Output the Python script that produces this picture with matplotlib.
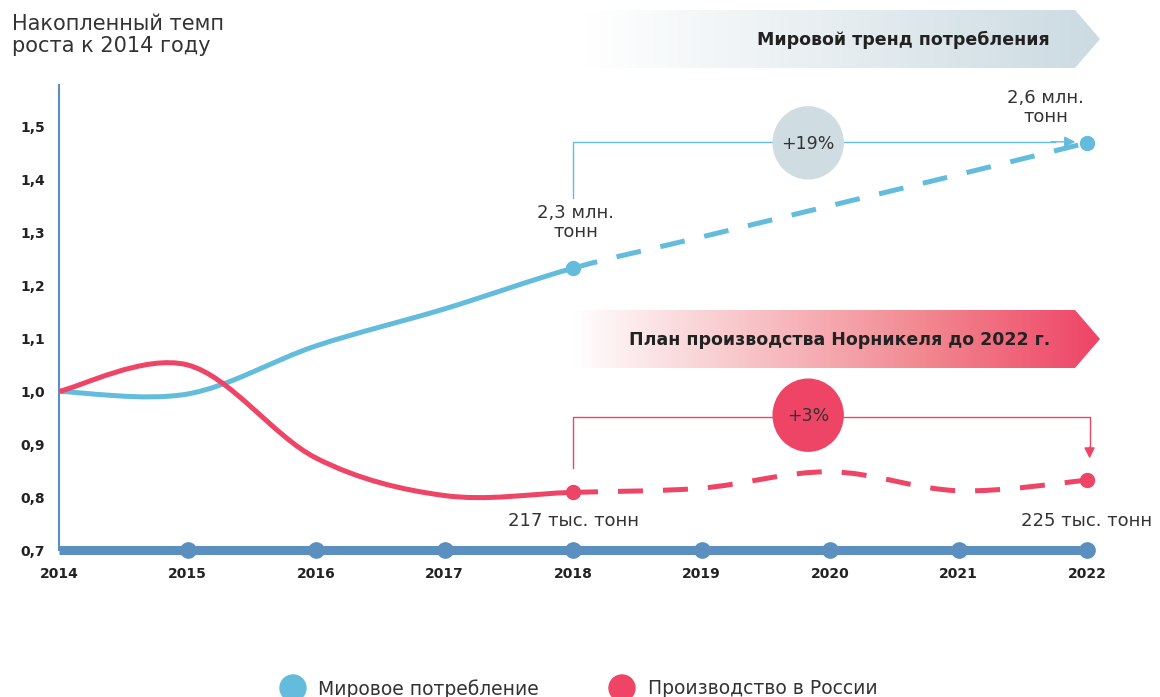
import numpy as np
import matplotlib
matplotlib.use("Agg")
import matplotlib.pyplot as plt
from matplotlib.path import Path
from matplotlib.patches import PathPatch, Polygon, Ellipse, Circle
from matplotlib.colors import LinearSegmentedColormap

plt.rcParams['font.family'] = ['DejaVu Sans']

# data
years = [2014, 2015, 2016, 2017, 2018, 2019, 2020, 2021, 2022]
world = [1.0, 0.995, 1.086, 1.156, 1.233, 1.292, 1.351, 1.41, 1.47]
russia = [1.0, 1.05, 0.874, 0.803, 0.809, 0.817, 0.848, 0.812, 0.832]
y_ticks = [0.7, 0.8, 0.9, 1.0, 1.1, 1.2, 1.3, 1.4, 1.5]
split_year = 2018

BLUE = "#64bcdc"
RED = "#ee4466"
AXIS = "#5b8fc0"
DARK = "#222222"
GREY = "#333333"

fig = plt.figure(figsize=(11.6, 6.97), dpi=100)

# background overlay in pixel coords (banners, legend)
bg = fig.add_axes([0, 0, 1, 1])
bg.set_xlim(0, 1160)
bg.set_ylim(697, 0)
bg.axis("off")


def banner(x0, x1, tip, y0, y1, colors, text):
    cmap = LinearSegmentedColormap.from_list("g", colors)
    grad = np.linspace(0, 1, 256).reshape(1, -1)
    im = bg.imshow(grad, cmap=cmap, extent=(x0, tip, y1, y0), aspect="auto")
    poly = Polygon([(x0, y0), (x1, y0), (tip, (y0 + y1) / 2), (x1, y1), (x0, y1)],
                   closed=True, facecolor="none", edgecolor="none")
    bg.add_patch(poly)
    im.set_clip_path(poly)
    bg.text(1050, (y0 + y1) / 2 + 1, text, ha="right", va="center",
            fontsize=12.5, fontweight="bold", color=DARK)


banner(585, 1075, 1100, 10, 68, ["#ffffff", "#e6edf0", "#cbdbe2"], "Мировой тренд потребления")
banner(572, 1075, 1100, 310, 368, ["#ffffff", "#f8c4c8", "#f28890", "#ee4466"],
       "План производства Норникеля до 2022 г.")

# legend
bg.add_patch(Circle((293, 688), 13, color=BLUE))
bg.text(318, 689, "Мировое потребление", va="center", fontsize=13.5, color=GREY)
bg.add_patch(Circle((622, 688), 13, color=RED))
bg.text(648, 689, "Производство в России", va="center", fontsize=13.5, color=GREY)

bg.text(12, 14, "Накопленный темп\nроста к 2014 году", va="top", ha="left",
        fontsize=15, color=GREY, linespacing=1.15)

# main axes
ax = fig.add_axes([59 / 1160, (697 - 550) / 697, (1087 - 59) / 1160, (550 - 85) / 697])
ax.patch.set_alpha(0)
ax.set_xlim(2014, 2022)
ax.set_ylim(0.7, 0.7 + 465 / 528.75)


def draw_series(vals, color):
    k = years.index(split_year)
    pts = np.column_stack([years, vals]).astype(float)
    n = len(pts)
    solid_v, solid_c, dash_v, dash_c = [], [], [], []
    for i in range(n - 1):
        p0 = pts[max(i - 1, 0)]
        p1 = pts[i]
        p2 = pts[i + 1]
        p3 = pts[min(i + 2, n - 1)]
        c1 = p1 + (p2 - p0) / 6
        c2 = p2 - (p3 - p1) / 6
        tv, tc = (solid_v, solid_c) if i < k else (dash_v, dash_c)
        if not tv:
            tv.append(p1)
            tc.append(Path.MOVETO)
        tv += [c1, c2, p2]
        tc += [Path.CURVE4] * 3
    ax.add_patch(PathPatch(Path(solid_v, solid_c), fill=False, edgecolor=color,
                           lw=3.6, capstyle="butt", zorder=3))
    ax.add_patch(PathPatch(Path(dash_v, dash_c), fill=False, edgecolor=color,
                           lw=3.6, linestyle=(0, (5, 4)), capstyle="butt", zorder=3))
    ax.plot([split_year, years[-1]], [vals[k], vals[-1]], "o", color=color,
            ms=10, zorder=4, clip_on=False)


draw_series(world, BLUE)
draw_series(russia, RED)

# axes lines
ax.plot([2014, 2022], [0.7, 0.7], color=AXIS, lw=6.5, solid_capstyle="butt",
        clip_on=False, zorder=2)
ax.plot(years[1:], [0.7] * (len(years) - 1), "o", color=AXIS, ms=11,
        clip_on=False, zorder=2)
for s in ["top", "right", "bottom"]:
    ax.spines[s].set_visible(False)
ax.spines["left"].set_color(AXIS)
ax.spines["left"].set_linewidth(1.5)

ax.set_xticks(years)
ax.set_xticklabels([str(y) for y in years], fontweight="bold", fontsize=10, color=DARK)
ax.set_yticks(y_ticks)
ax.set_yticklabels([f"{v:.1f}".replace(".", ",") for v in y_ticks],
                   fontweight="bold", fontsize=10, color=DARK)
ax.tick_params(axis="both", length=0)
ax.tick_params(axis="x", pad=12)
ax.tick_params(axis="y", pad=10)

# blue bracket
ax.plot([2018, 2018, 2021.75], [1.366, 1.472, 1.472], color=BLUE, lw=1, zorder=2)
ax.annotate("", xy=(2021.93, 1.472), xytext=(2021.7, 1.472), annotation_clip=False,
            arrowprops=dict(arrowstyle="-|>", color=BLUE, lw=1, mutation_scale=16))
ax.add_patch(Ellipse((2019.83, 1.47), 70 / 128.5, 72 / 528.75, color="#cfdde3", zorder=3))
ax.text(2019.83, 1.468, "+19%", ha="center", va="center", fontsize=12.5, color=GREY, zorder=4)

# red bracket
ax.plot([2018, 2018, 2022.02, 2022.02], [0.855, 0.9515, 0.9515, 0.89], color=RED, lw=1,
        zorder=2, clip_on=False)
ax.annotate("", xy=(2022.02, 0.868), xytext=(2022.02, 0.9), annotation_clip=False,
            arrowprops=dict(arrowstyle="-|>", color=RED, lw=1, mutation_scale=16))
ax.add_patch(Ellipse((2019.83, 0.955), 70 / 128.5, 72 / 528.75, color=RED, zorder=3))
ax.text(2019.83, 0.953, "+3%", ha="center", va="center", fontsize=12.5, color=GREY, zorder=4)

# value labels
ax.text(2018.02, 1.32, "2,3 млн.\nтонн", ha="center", va="center", fontsize=13,
        color=GREY, linespacing=1.05)
ax.text(2021.68, 1.537, "2,6 млн.\nтонн", ha="center", va="center", fontsize=13,
        color=GREY, linespacing=1.05, clip_on=False)
ax.text(2018.0, 0.755, "217 тыс. тонн", ha="center", va="center", fontsize=13, color=GREY)
ax.text(2022.0, 0.755, "225 тыс. тонн", ha="center", va="center", fontsize=13,
        color=GREY, clip_on=False)

fig.savefig("out.png", dpi=100)
